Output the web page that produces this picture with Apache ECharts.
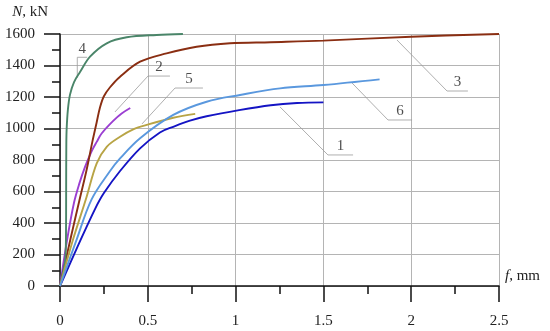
<!DOCTYPE html>
<html>
<head>
<meta charset="utf-8">
<script src="https://cdn.jsdelivr.net/npm/echarts@6/dist/echarts.min.js"></script>
<style>html,body{margin:0;padding:0;background:#fff}#c{width:550px;height:331px}</style>
</head>
<body>
<div id="c"></div>
<script>
// deflection f (mm), load N (kN)
const curve1 = [[0,0],[0.1,250],[0.2,490],[0.25,590],[0.342,730],[0.456,874],[0.569,975],[0.645,1011],[0.74,1050],[0.835,1078],[1.02,1117],[1.2,1148],[1.35,1162],[1.5,1166]];
const curve2 = [[0,0],[0.04,290],[0.08,530],[0.11,650],[0.142,755],[0.18,855],[0.209,915],[0.237,968],[0.3,1045],[0.351,1095],[0.40,1130]];
const curve3 = [[0,0],[0.06,300],[0.114,560],[0.152,740],[0.185,920],[0.209,1040],[0.228,1135],[0.25,1205],[0.285,1262],[0.342,1329],[0.456,1424],[0.607,1477],[0.778,1519],[0.968,1541],[1.2,1548],[1.5,1558],[2.0,1583],[2.5,1600]];
const curve4 = [[0,0],[0.02,100],[0.03,170],[0.034,300],[0.035,600],[0.036,900],[0.038,1000],[0.045,1120],[0.057,1215],[0.08,1295],[0.114,1358],[0.171,1456],[0.266,1541],[0.38,1579],[0.55,1594],[0.70,1600]];
const curve5 = [[0,0],[0.07,280],[0.15,560],[0.209,779],[0.266,884],[0.342,948],[0.417,995],[0.5,1025],[0.645,1068],[0.77,1093]];
const curve6 = [[0,0],[0.09,280],[0.18,550],[0.285,730],[0.342,810],[0.456,938],[0.645,1086],[0.835,1170],[1.025,1213],[1.253,1255],[1.5,1276],[1.82,1312]];

const curveNames = ['1','2','3','4','5','6'];
const curveColors = ['#1414c4','#9b3fd2','#8a2e12','#4a8569','#b8a445','#5a98de'];
const curves = [curve1, curve2, curve3, curve4, curve5, curve6];

// leader lines: label text and path (shelf end, shelf start, point on curve)
const leaderLabels = ['1','2','3','4','5','6'];
const leaderPaths = [
  [[1.669,832],[1.526,832],[1.253,1137]],
  [[0.626,1333],[0.501,1333],[0.313,1105]],
  [[2.323,1238],[2.204,1238],[1.919,1562]],
  [[0.155,1452],[0.0985,1452],[0.0985,1322]],
  [[0.814,1257],[0.655,1257],[0.467,1029]],
  [[2.005,1054],[1.868,1054],[1.663,1289]]
];

const font = 'Liberation Serif';
const chart = echarts.init(document.getElementById('c'), null, {renderer:'canvas'});

const series = [];
curves.forEach((d,i)=>{
  series.push({
    name: curveNames[i], type:'line', data:d, showSymbol:false, smooth:0.35,
    lineStyle:{color:curveColors[i], width:1.9}, z:3, silent:true
  });
});
leaderPaths.forEach((p,i)=>{
  series.push({
    type:'line', data:p, showSymbol:false, silent:true, z:2,
    lineStyle:{color:'#9a9a9a', width:0.8}
  });
  const mid = [(p[0][0]+p[1][0])/2, p[0][1]];
  series.push({
    type:'scatter', data:[mid], symbolSize:0, silent:true, z:4,
    label:{show:true, position:'top', distance:1, formatter:leaderLabels[i], color:'#222', fontFamily:font, fontSize:15}
  });
});

chart.setOption({
  animation:false,
  grid:{left:60, right:51, top:34, bottom:45, containLabel:false},
  xAxis:{
    type:'value', min:0, max:2.5, interval:0.5,
    name:'{i|f}, mm', nameLocation:'end', nameGap:6,
    nameTextStyle:{fontFamily:font, fontSize:15, color:'#222', verticalAlign:'bottom', padding:[0,0,2,0],
      rich:{i:{fontStyle:'italic', fontFamily:font, fontSize:15, color:'#222'}}},
    axisLine:{show:true, lineStyle:{color:'#111', width:1.5}},
    axisTick:{show:true, inside:false, length:16, lineStyle:{color:'#111', width:1.5}},
    minorTick:{show:true, splitNumber:2, length:8, lineStyle:{color:'#111', width:1.5}},
    axisLabel:{margin:28, fontFamily:font, fontSize:15, color:'#222', formatter:v=>String(v)},
    splitLine:{show:true, lineStyle:{color:'#b4b4b4', width:1}}
  },
  yAxis:{
    type:'value', min:0, max:1600, interval:200,
    name:'{i|N}, kN', nameLocation:'end', nameGap:14,
    nameTextStyle:{fontFamily:font, fontSize:15, color:'#222', align:'right', padding:[0,12,0,0],
      rich:{i:{fontStyle:'italic', fontFamily:font, fontSize:15, color:'#222'}}},
    axisLine:{show:true, lineStyle:{color:'#111', width:1.5}},
    axisTick:{show:true, inside:false, length:16, lineStyle:{color:'#111', width:1.5}},
    minorTick:{show:true, splitNumber:2, length:8, lineStyle:{color:'#111', width:1.5}},
    axisLabel:{margin:25, fontFamily:font, fontSize:15, color:'#222', formatter:v=>String(v)},
    splitLine:{show:true, lineStyle:{color:'#b4b4b4', width:1}}
  },
  series: series
});
</script>
</body>
</html>
